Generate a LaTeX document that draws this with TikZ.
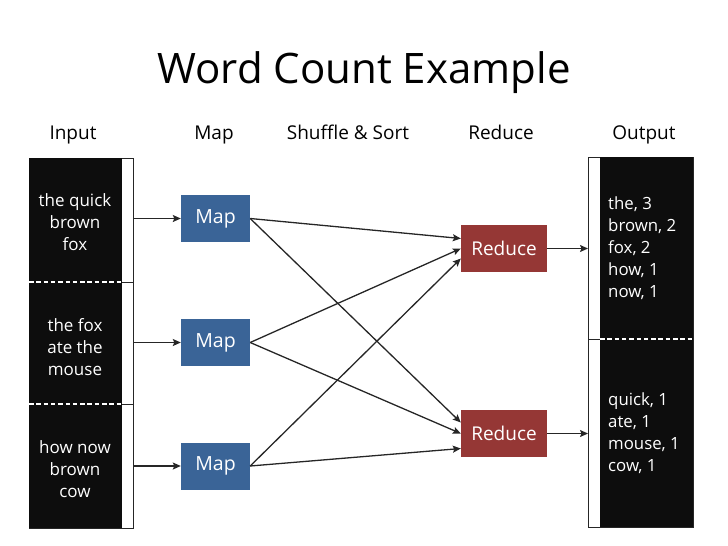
\documentclass[tikz,border=0pt]{standalone}
\usepackage{fontspec}
\setmainfont{Open Sans}
\usetikzlibrary{arrows.meta}
\definecolor{mapblue}{HTML}{3A6497}
\definecolor{redred}{HTML}{953735}
\definecolor{lineg}{HTML}{262626}
\definecolor{boxblack}{HTML}{0D0D0D}
\tikzset{
  bracketbox/.style={draw=lineg, line width=1pt, fill=white, inner sep=0pt, anchor=north west},
  blackbox/.style={fill=boxblack, draw=none, inner sep=0pt, anchor=north west},
  segtext/.style={text=white, align=center, font=\fontsize{17}{22}\selectfont},
  outtext/.style={text=white, align=left, anchor=west, inner sep=0pt, font=\fontsize{16.8}{22}\selectfont},
  mapbox/.style={fill=mapblue, draw=none, minimum width=69pt, minimum height=47pt, inner sep=0pt, text=white, font=\fontsize{19.5}{22}\selectfont},
  redbox/.style={fill=redred, draw=none, minimum width=86pt, minimum height=47pt, inner sep=0pt, text=white, font=\fontsize{19}{22}\selectfont},
  header/.style={anchor=base, font=\fontsize{19}{22}\selectfont, text=black},
  conn/.style={draw=lineg, line width=1.3pt, -{Stealth[length=8pt,width=7pt,inset=1.5pt]}},
  dashsep/.style={draw=white, line width=1.3pt, dash pattern=on 4.5pt off 2.8pt}
}
\begin{document}
\begin{tikzpicture}[x=1pt,y=-1pt]
\useasboundingbox (0,0) rectangle (728,546);
% title
\node[anchor=base, font=\fontsize{42}{48}\selectfont] (title) at (364,83) {Word Count Example};
% headers
\node[header] (hin) at (73,139) {Input};
\node[header] (hmap) at (214,139) {Map};
\node[header] (hss) at (348,139) {Shuffle \& Sort};
\node[header] (hred) at (501,139) {Reduce};
\node[header] (hout) at (644,139) {Output};
% input column
\node[bracketbox, minimum width=104pt, minimum height=124pt] (b1) at (29,158) {};
\node[bracketbox, minimum width=104pt, minimum height=122pt] (b2) at (29,282) {};
\node[bracketbox, minimum width=104pt, minimum height=124pt] (b3) at (29,404) {};
\node[blackbox, minimum width=93pt, minimum height=370pt] (inblk) at (29,158) {};
\draw[dashsep] (29,282) -- (122,282);
\draw[dashsep] (29,404) -- (122,404);
\node[segtext] (i1) at (75,222) {the quick\\brown\\fox};
\node[segtext] (i2) at (75,347) {the fox\\ate the\\mouse};
\node[segtext] (i3) at (75,469) {how now\\brown\\cow};
% output column
\node[bracketbox, minimum width=105pt, minimum height=182pt] (o1) at (588,157) {};
\node[bracketbox, minimum width=105pt, minimum height=188pt] (o2) at (588,339) {};
\node[blackbox, minimum width=93pt, minimum height=370pt] (outblk) at (600,157) {};
\draw[dashsep] (600,339) -- (693,339);
\node[outtext] (t1) at (608,248) {the, 3\\brown, 2\\fox, 2\\how, 1\\now, 1};
\node[outtext] (t2) at (608,433) {quick, 1\\ate, 1\\mouse, 1\\cow, 1};
% map and reduce boxes
\node[mapbox] (m1) at (215.5,218.5) {Map};
\node[mapbox] (m2) at (215.5,342.5) {Map};
\node[mapbox] (m3) at (215.5,466) {Map};
\node[redbox] (r1) at (504,248.5) {Reduce};
\node[redbox] (r2) at (504,433.5) {Reduce};
% input arrows
\draw[conn] (b1.east |- m1.west) -- (m1.west);
\draw[conn] (b2.east |- m2.west) -- (m2.west);
\draw[conn] (b3.east |- m3.west) -- (m3.west);
% shuffle
\draw[conn] (m1.east) -- ([yshift=10pt]r1.west);
\draw[conn] (m1.east) -- ([yshift=11pt]r2.west);
\draw[conn] (m2.east) -- (r1.west);
\draw[conn] (m2.east) -- (r2.west);
\draw[conn] (m3.east) -- ([yshift=-10pt]r1.west);
\draw[conn] (m3.east) -- ([yshift=-15pt]r2.west);
% output arrows
\draw[conn] (r1.east) -- (o1.west |- r1.east);
\draw[conn] (r2.east) -- (o2.west |- r2.east);
\end{tikzpicture}
\end{document}
